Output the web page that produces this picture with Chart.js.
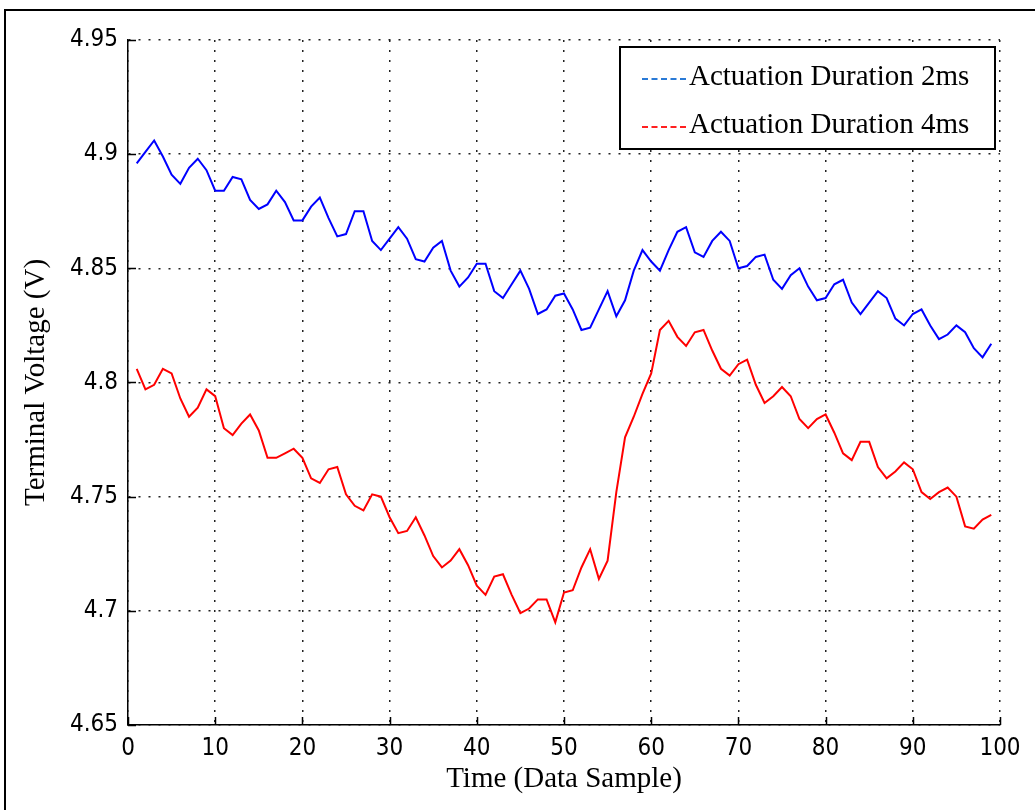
<!DOCTYPE html>
<html lang="en">
  <head>
    <meta charset="UTF-8" />
    <title>Terminal Voltage</title>
    <script src="https://cdn.jsdelivr.net/npm/chart.js"></script>
    <style>
      body { margin: 0; background: #fff; }
      canvas { display: block; }
    </style>
  </head>
  <body>
    <canvas id="graph" width="1035" height="810"></canvas>

    <script>
      // sample index (x) and measured terminal voltage for both runs
      const samples = [
        1, 2, 3, 4, 5, 6, 7, 8, 9, 10, 11, 12, 13, 14, 15, 16, 17, 18, 19, 20,
        21, 22, 23, 24, 25, 26, 27, 28, 29, 30, 31, 32, 33, 34, 35, 36, 37, 38, 39, 40,
        41, 42, 43, 44, 45, 46, 47, 48, 49, 50, 51, 52, 53, 54, 55, 56, 57, 58, 59, 60,
        61, 62, 63, 64, 65, 66, 67, 68, 69, 70, 71, 72, 73, 74, 75, 76, 77, 78, 79, 80,
        81, 82, 83, 84, 85, 86, 87, 88, 89, 90, 91, 92, 93, 94, 95, 96, 97, 98, 99,
      ];

      const duration2ms = [
        4.896, 4.901, 4.906, 4.899, 4.891, 4.887, 4.894, 4.898, 4.893, 4.884,
        4.884, 4.890, 4.889, 4.880, 4.876, 4.878, 4.884, 4.879, 4.871, 4.871,
        4.877, 4.881, 4.872, 4.864, 4.865, 4.875, 4.875, 4.862, 4.858, 4.863,
        4.868, 4.863, 4.854, 4.853, 4.859, 4.862, 4.849, 4.842, 4.846, 4.852,
        4.852, 4.840, 4.837, 4.843, 4.849, 4.841, 4.830, 4.832, 4.838, 4.839,
        4.832, 4.823, 4.824, 4.832, 4.840, 4.829, 4.836, 4.849, 4.858, 4.853,
        4.849, 4.858, 4.866, 4.868, 4.857, 4.855, 4.862, 4.866, 4.862, 4.850,
        4.851, 4.855, 4.856, 4.845, 4.841, 4.847, 4.850, 4.842, 4.836, 4.837,
        4.843, 4.845, 4.835, 4.830, 4.835, 4.840, 4.837, 4.828, 4.825, 4.830,
        4.832, 4.825, 4.819, 4.821, 4.825, 4.822, 4.815, 4.811, 4.817,
      ];

      const duration4ms = [
        4.806, 4.797, 4.799, 4.806, 4.804, 4.793, 4.785, 4.789, 4.797, 4.794,
        4.780, 4.777, 4.782, 4.786, 4.779, 4.767, 4.767, 4.769, 4.771, 4.767,
        4.758, 4.756, 4.762, 4.763, 4.751, 4.746, 4.744, 4.751, 4.750, 4.741,
        4.734, 4.735, 4.741, 4.733, 4.724, 4.719, 4.722, 4.727, 4.720, 4.711,
        4.707, 4.715, 4.716, 4.707, 4.699, 4.701, 4.705, 4.705, 4.695, 4.708,
        4.709, 4.719, 4.727, 4.714, 4.722, 4.752, 4.776, 4.785, 4.795, 4.804,
        4.823, 4.827, 4.820, 4.816, 4.822, 4.823, 4.814, 4.806, 4.803, 4.808,
        4.810, 4.799, 4.791, 4.794, 4.798, 4.794, 4.784, 4.780, 4.784, 4.786,
        4.778, 4.769, 4.766, 4.774, 4.774, 4.763, 4.758, 4.761, 4.765, 4.762,
        4.752, 4.749, 4.752, 4.754, 4.750, 4.737, 4.736, 4.740, 4.742,
      ];

      const seriesNames = ["Actuation Duration 2ms", "Actuation Duration 4ms"];

      const serif = "'Liberation Serif', 'Times New Roman', serif";
      const narrow = "'Liberation Sans Narrow', 'DejaVu Sans Condensed', Arial, sans-serif";

      const toPoints = (vals) => vals.map((v, i) => ({ x: samples[i], y: v }));

      // white page with the thin figure frame (top + left edges visible)
      const framePlugin = {
        id: "frame",
        beforeDraw(chart) {
          const { ctx } = chart;
          ctx.save();
          ctx.fillStyle = "#fff";
          ctx.fillRect(0, 0, chart.width, chart.height);
          ctx.strokeStyle = "#000";
          ctx.lineWidth = 2;
          ctx.beginPath();
          ctx.moveTo(5, chart.height);
          ctx.lineTo(5, 10);
          ctx.lineTo(chart.width, 10);
          ctx.stroke();
          ctx.restore();
        },
      };

      // matlab style inward ticks + boxed legend in the upper right
      const matlabPlugin = {
        id: "matlabBits",
        afterDraw(chart) {
          const { ctx, chartArea } = chart;
          const xs = chart.scales.x;
          const ys = chart.scales.y;
          ctx.save();
          ctx.strokeStyle = "#000";
          ctx.lineWidth = 1.5;
          ctx.beginPath();
          xs.ticks.forEach((t) => {
            const px = Math.round(xs.getPixelForValue(t.value)) + 0.5;
            ctx.moveTo(px, chartArea.bottom);
            ctx.lineTo(px, chartArea.bottom - 8);
          });
          ys.ticks.forEach((t) => {
            const py = Math.round(ys.getPixelForValue(t.value)) + 0.5;
            ctx.moveTo(chartArea.left, py);
            ctx.lineTo(chartArea.left + 8, py);
          });
          ctx.stroke();

          // legend box
          const bx = 620, by = 47, bw = 375, bh = 102;
          ctx.fillStyle = "#fff";
          ctx.fillRect(bx, by, bw, bh);
          ctx.lineWidth = 2;
          ctx.strokeRect(bx, by, bw, bh);
          const legendColors = ["#2a7ad6", "#ff2020"];
          ctx.font = "29px " + serif;
          ctx.textBaseline = "middle";
          chart.data.datasets.forEach((ds, i) => {
            const cy = by + 30 + i * 48;
            ctx.strokeStyle = legendColors[i];
            ctx.lineWidth = 2;
            ctx.setLineDash([6, 3.5]);
            ctx.beginPath();
            ctx.moveTo(642, cy + 2);
            ctx.lineTo(689, cy + 2);
            ctx.stroke();
            ctx.setLineDash([]);
            ctx.fillStyle = "#000";
            ctx.fillText(ds.label, 689, cy);
          });
          ctx.restore();
        },
      };

      const ctx = document.getElementById("graph").getContext("2d");

      new Chart(ctx, {
        type: "line",
        data: {
          datasets: [
            {
              label: seriesNames[0],
              data: toPoints(duration2ms),
              borderColor: "#0000ff",
              borderWidth: 2,
              pointRadius: 0,
              tension: 0,
            },
            {
              label: seriesNames[1],
              data: toPoints(duration4ms),
              borderColor: "#ff0000",
              borderWidth: 2,
              pointRadius: 0,
              tension: 0,
            },
          ],
        },
        plugins: [framePlugin, matlabPlugin],
        options: {
          responsive: false,
          animation: false,
          layout: { padding: { left: 0, top: 40, right: 35, bottom: 0 } },
          plugins: {
            legend: { display: false },
            tooltip: { enabled: false },
          },
          scales: {
            x: {
              type: "linear",
              min: 0,
              max: 100,
              ticks: {
                stepSize: 10,
                padding: 9,
                color: "#000",
                font: { family: narrow, size: 24 },
                maxRotation: 0,
              },
              grid: { color: "#222", lineWidth: 1.5, drawTicks: false },
              border: { display: true, color: "#000", width: 1.5, dash: [2, 8] },
              title: {
                display: true,
                text: "Time (Data Sample)",
                color: "#000",
                font: { family: serif, size: 29 },
                padding: { top: 0, bottom: 13 },
              },
              afterFit(scale) {
                scale.height = 85;
              },
            },
            y: {
              min: 4.65,
              max: 4.95,
              ticks: {
                stepSize: 0.05,
                padding: 10,
                color: "#000",
                font: { family: narrow, size: 24 },
                callback: (v) => String(parseFloat(v.toFixed(2))),
              },
              grid: { color: "#222", lineWidth: 1.5, drawTicks: false },
              border: { display: true, color: "#000", width: 1.5, dash: [2, 8] },
              title: {
                display: true,
                text: "Terminal Voltage (V)",
                color: "#000",
                font: { family: serif, size: 29 },
                padding: { top: 19, bottom: 0 },
              },
              afterFit(scale) {
                scale.width = 128;
              },
            },
          },
        },
      });
    </script>
  </body>
</html>
